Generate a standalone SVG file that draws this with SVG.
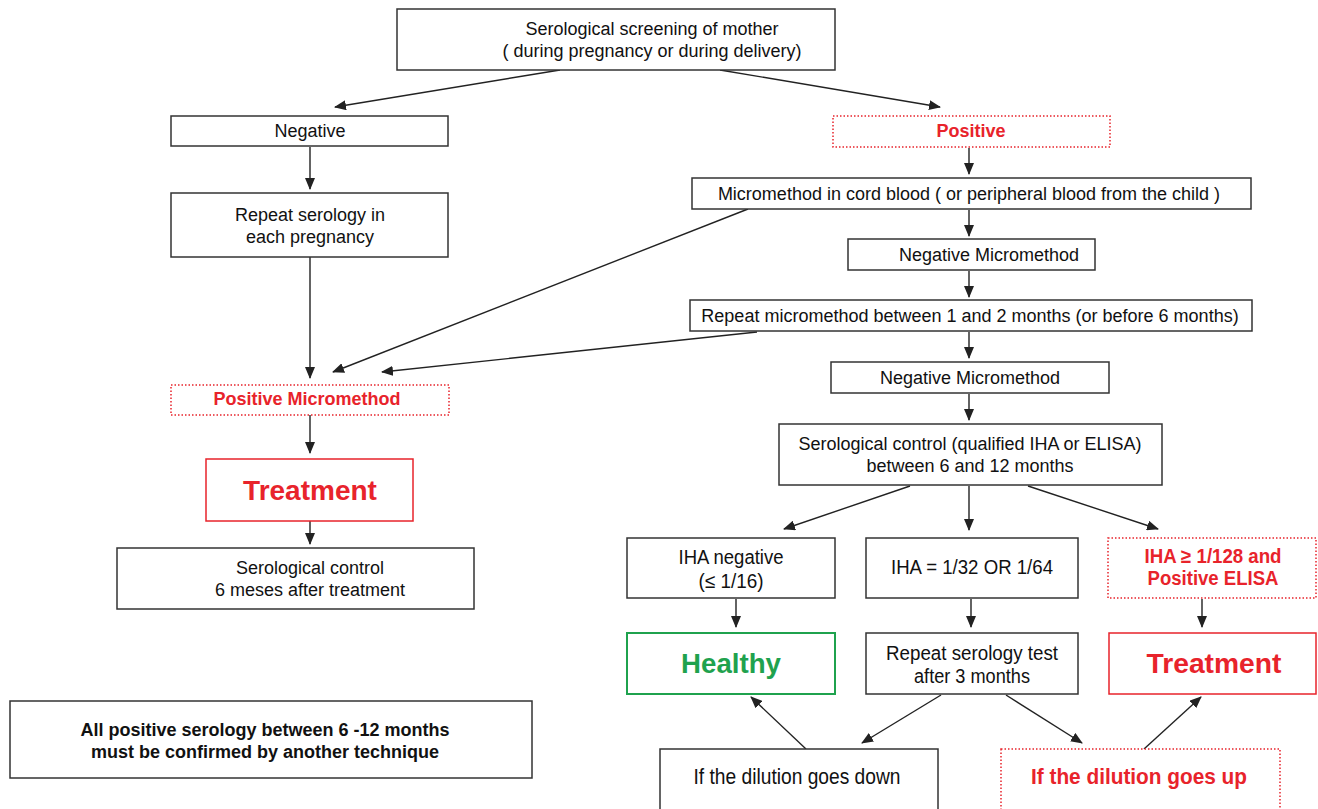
<svg xmlns="http://www.w3.org/2000/svg" width="1318" height="809" viewBox="0 0 1318 809">
<defs>
<marker id="ah" markerWidth="12" markerHeight="10" refX="11" refY="5" orient="auto" markerUnits="userSpaceOnUse">
<path d="M0,0 L12,5 L0,10 Z" fill="#222"/>
</marker>
<style>
.box{fill:#fff;stroke:#333;stroke-width:1.5}
.rdot{fill:#fff;stroke:#e8232b;stroke-width:1.5;stroke-dasharray:1.5 2}
.rbox{fill:#fff;stroke:#e8232b;stroke-width:1.5}
.gbox{fill:#fff;stroke:#1fa24e;stroke-width:2}
.t{font-family:"Liberation Sans",Arial,sans-serif;font-size:18px;fill:#111;text-anchor:middle}
.tn{font-family:"Liberation Sans",Arial,sans-serif;font-size:20px;fill:#111;text-anchor:middle}
.b{font-family:"Liberation Sans",Arial,sans-serif;font-size:18px;font-weight:bold;fill:#111;text-anchor:middle}
.r{font-family:"Liberation Sans",Arial,sans-serif;font-size:18px;font-weight:bold;fill:#e8232b;text-anchor:middle}
.big{font-family:"Liberation Sans",Arial,sans-serif;font-size:28px;font-weight:bold;text-anchor:middle}
.c{stroke:#222;stroke-width:1.4;fill:none;marker-end:url(#ah)}
</style>
</defs>

<g id="connectors">
<line class="c" x1="560" y1="70" x2="335" y2="107"/>
<line class="c" x1="720" y1="70" x2="940" y2="107"/>
<line class="c" x1="310" y1="147" x2="310" y2="189"/>
<line class="c" x1="310" y1="257" x2="310" y2="378"/>
<line class="c" x1="748" y1="209" x2="333" y2="372"/>
<line class="c" x1="757" y1="332" x2="382" y2="372"/>
<line class="c" x1="310" y1="415" x2="310" y2="453"/>
<line class="c" x1="310" y1="521" x2="310" y2="544"/>
<line class="c" x1="969" y1="148" x2="969" y2="174"/>
<line class="c" x1="969" y1="210" x2="969" y2="236"/>
<line class="c" x1="969" y1="271" x2="969" y2="297"/>
<line class="c" x1="969" y1="332" x2="969" y2="358"/>
<line class="c" x1="969" y1="394" x2="969" y2="420"/>
<line class="c" x1="910" y1="486" x2="784" y2="529"/>
<line class="c" x1="969" y1="486" x2="969" y2="530"/>
<line class="c" x1="1028" y1="486" x2="1158" y2="529"/>
<line class="c" x1="736" y1="599" x2="736" y2="627"/>
<line class="c" x1="971" y1="599" x2="971" y2="627"/>
<line class="c" x1="1202" y1="599" x2="1202" y2="627"/>
<line class="c" x1="941" y1="695" x2="862" y2="743"/>
<line class="c" x1="1006" y1="695" x2="1082" y2="743"/>
<line class="c" x1="806" y1="749" x2="751" y2="697"/>
<line class="c" x1="1144" y1="749" x2="1201" y2="697"/>
</g>

<g id="screening">
<rect class="box" x="397" y="9" width="438" height="61"/>
<text class="t" x="652" y="35">Serological screening of mother</text>
<text class="t" x="652" y="57">( during pregnancy or during delivery)</text>
</g>

<g id="negative">
<rect class="box" x="171" y="116" width="277" height="30"/>
<text class="t" x="310" y="137">Negative</text>
</g>

<g id="repeat-serology">
<rect class="box" x="171" y="193" width="277" height="64"/>
<text class="t" x="310" y="221">Repeat serology  in</text>
<text class="t" x="310" y="243">each pregnancy</text>
</g>

<g id="positive-micromethod">
<rect class="rdot" x="171" y="385" width="278" height="30"/>
<text class="r" x="307" y="405">Positive Micromethod</text>
</g>

<g id="treatment-left">
<rect class="rbox" x="206" y="459" width="207" height="62"/>
<text class="big" x="310" y="500" fill="#e8232b">Treatment</text>
</g>

<g id="serological-control-left">
<rect class="box" x="117" y="548" width="357" height="61"/>
<text class="t" x="310" y="574">Serological control</text>
<text class="t" x="310" y="596">6 meses after treatment</text>
</g>

<g id="note">
<rect class="box" x="10" y="701" width="522" height="77"/>
<text class="b" x="265" y="736">All positive serology between 6 -12 months</text>
<text class="b" x="265" y="758">must be confirmed by another technique</text>
</g>

<g id="positive">
<rect class="rdot" x="833" y="116" width="277" height="31"/>
<text class="r" x="971" y="137">Positive</text>
</g>

<g id="cord-blood">
<rect class="box" x="692" y="178" width="559" height="31"/>
<text class="t" x="969" y="200">Micromethod in cord blood ( or peripheral blood from the child )</text>
</g>

<g id="negative-micromethod-1">
<rect class="box" x="848" y="239" width="247" height="31"/>
<text class="t" x="989" y="261">Negative Micromethod</text>
</g>

<g id="repeat-micromethod">
<rect class="box" x="690" y="300" width="562" height="31"/>
<text class="t" x="970" y="322">Repeat micromethod between 1 and 2 months (or before 6 months)</text>
</g>

<g id="negative-micromethod-2">
<rect class="box" x="831" y="362" width="278" height="31"/>
<text class="t" x="970" y="384">Negative Micromethod</text>
</g>

<g id="serological-control-right">
<rect class="box" x="779" y="424" width="383" height="61"/>
<text class="t" x="970" y="450">Serological control (qualified IHA or ELISA)</text>
<text class="t" x="970" y="472">between 6 and 12 months</text>
</g>

<g id="iha-negative">
<rect class="box" x="627" y="538" width="208" height="60"/>
<text class="tn" x="731" y="564" textLength="105" lengthAdjust="spacingAndGlyphs">IHA negative</text>
<text class="tn" x="731" y="588" textLength="65" lengthAdjust="spacingAndGlyphs">(≤ 1/16)</text>
</g>

<g id="iha-mid">
<rect class="box" x="866" y="538" width="212" height="60"/>
<text class="tn" x="972" y="574" textLength="162" lengthAdjust="spacingAndGlyphs">IHA = 1/32 OR 1/64</text>
</g>

<g id="iha-high">
<rect class="rdot" x="1108" y="538" width="208" height="60"/>
<text class="r" x="1213" y="563" style="font-size:20px" textLength="137" lengthAdjust="spacingAndGlyphs">IHA ≥ 1/128 and</text>
<text class="r" x="1213" y="585" style="font-size:20px" textLength="131" lengthAdjust="spacingAndGlyphs">Positive ELISA</text>
</g>

<g id="healthy">
<rect class="gbox" x="627" y="633" width="208" height="61"/>
<text class="big" x="731" y="673" fill="#1fa24e" textLength="100" lengthAdjust="spacingAndGlyphs">Healthy</text>
</g>

<g id="repeat-serology-test">
<rect class="box" x="866" y="633" width="212" height="61"/>
<text class="tn" x="972" y="660" textLength="172" lengthAdjust="spacingAndGlyphs">Repeat serology  test</text>
<text class="tn" x="972" y="683" textLength="116" lengthAdjust="spacingAndGlyphs">after 3 months</text>
</g>

<g id="treatment-right">
<rect class="rbox" x="1109" y="633" width="207" height="61"/>
<text class="big" x="1214" y="673" fill="#e8232b" textLength="135" lengthAdjust="spacingAndGlyphs">Treatment</text>
</g>

<g id="dilution-down">
<rect class="box" x="660" y="749" width="278" height="70"/>
<text class="tn" x="797" y="784" style="font-size:22px" textLength="207" lengthAdjust="spacingAndGlyphs">If the dilution goes down</text>
</g>

<g id="dilution-up">
<rect class="rdot" x="1001" y="749" width="279" height="70"/>
<text class="r" x="1139" y="784" style="font-size:22px" textLength="216" lengthAdjust="spacingAndGlyphs">If the dilution goes up</text>
</g>
</svg>
